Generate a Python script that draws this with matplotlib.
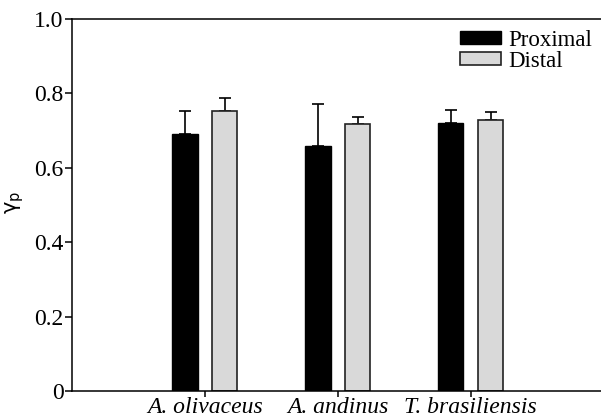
import numpy as np
import matplotlib
matplotlib.use("Agg")
import matplotlib.pyplot as plt

plt.rcParams['font.family'] = 'Liberation Serif'
plt.rcParams['mathtext.fontset'] = 'custom'
plt.rcParams['mathtext.rm'] = 'DejaVu Sans'
plt.rcParams['mathtext.it'] = 'DejaVu Sans:italic'

# Data
species = ['A. olivaceus', 'A. andinus', 'T. brasiliensis']
proximal = [0.692, 0.658, 0.720]
proximal_err = [0.061, 0.113, 0.035]
distal = [0.754, 0.719, 0.728]
distal_err = [0.034, 0.018, 0.021]
yticks = [0, 0.2, 0.4, 0.6, 0.8, 1.0]
ytick_labels = ['0', '0.2', '0.4', '0.6', '0.8', '1.0']

fig = plt.figure(figsize=(6.01, 4.19), dpi=100)
ax = fig.add_axes([72 / 601, 28 / 419, 529 / 601, 372 / 419])

x = np.arange(len(species))
width = 0.19
offset = 0.15

ax.bar(x - offset, proximal, width, color='black', edgecolor='black', linewidth=1,
       label='Proximal', zorder=2)
ax.bar(x + offset, distal, width, color='#d9d9d9', edgecolor='#222222', linewidth=1.2,
       label='Distal', zorder=2)
ax.errorbar(x - offset, proximal, yerr=[np.zeros(3), proximal_err], fmt='none',
            ecolor='black', elinewidth=1.2, capsize=4.5, capthick=1.2, zorder=1)
ax.errorbar(x + offset, distal, yerr=[np.zeros(3), distal_err], fmt='none',
            ecolor='black', elinewidth=1.2, capsize=4.5, capthick=1.2, zorder=1)

ax.set_xlim(-1.0, 2.98)
ax.set_ylim(0, 1.0)
ax.set_xticks(x)
ax.set_xticklabels(species, fontsize=17, style='italic')
ax.set_yticks(yticks)
ax.set_yticklabels(ytick_labels, fontsize=17)
ax.tick_params(axis='y', direction='out', length=5, width=1.1, pad=1)
ax.tick_params(axis='x', direction='out', length=4, width=1.1, pad=0)

for side in ['left', 'bottom', 'top']:
    ax.spines[side].set_linewidth(1.1)
ax.spines['right'].set_visible(False)

# y label, centred where the reference has it
fig.text(15 / 601, 1 - 202 / 419, 'γ$_{\\mathrm{p}}$', fontsize=15, family='DejaVu Sans',
         rotation=90, ha='center', va='center')

ax.legend(loc='upper right', bbox_to_anchor=(1.0, 0.995), frameon=False, fontsize=16.5,
          handlelength=1.8, handleheight=0.5, handletextpad=0.3, labelspacing=0.0,
          borderaxespad=0.0)

fig.savefig('out.png', dpi=100)
